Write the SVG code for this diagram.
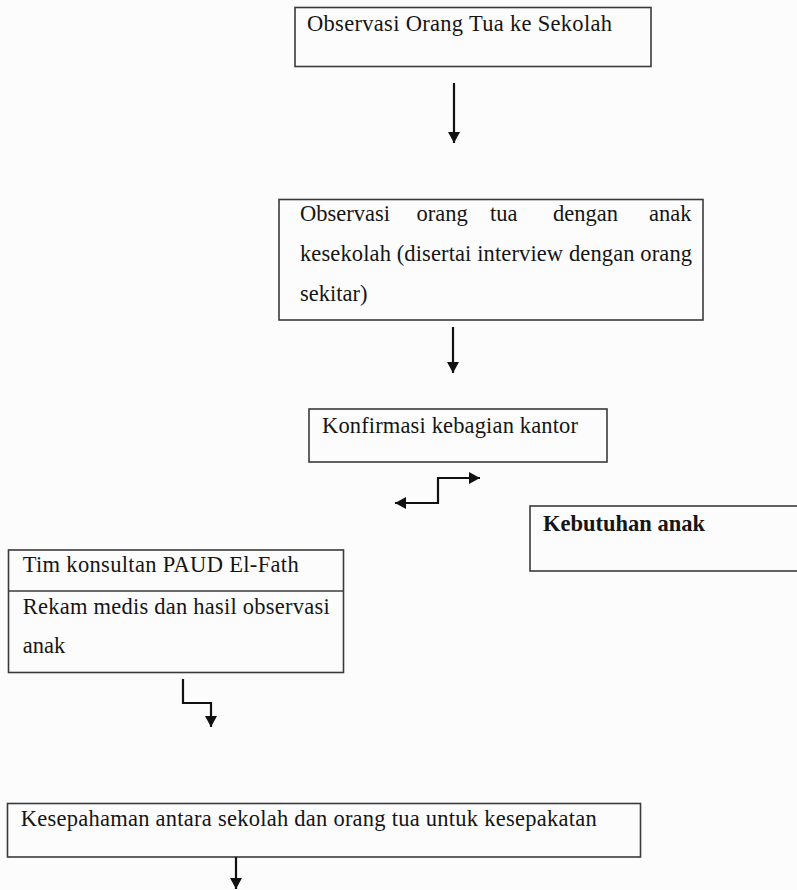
<svg xmlns="http://www.w3.org/2000/svg" width="797" height="890" viewBox="0 0 797 890">
<style>
.box{fill:none;stroke:#3a3a3a;stroke-width:1.6}
.t{font-family:"Liberation Serif","Times New Roman",serif;font-size:22.5px;fill:#151515}
.b{font-weight:bold}
.c{fill:none;stroke:#111;stroke-width:2.2}
</style>
<defs>
<marker id="ah" viewBox="0 0 11 12" refX="11" refY="6" markerWidth="11" markerHeight="12" orient="auto-start-reverse" markerUnits="userSpaceOnUse">
<path d="M0,0 L11,6 L0,12 z" fill="#111"/>
</marker>
</defs>
<rect width="797" height="890" fill="#fcfcfc"/>
<g id="n1">
<rect class="box" x="295" y="7.5" width="356" height="59"/>
<text class="t" x="307" y="31" textLength="305" lengthAdjust="spacing">Observasi Orang Tua ke Sekolah</text>
</g>
<g id="n2">
<rect class="box" x="279" y="199.5" width="424" height="120.5"/>
<text class="t" y="221"><tspan x="300">Observasi</tspan><tspan x="416.5">orang</tspan><tspan x="490">tua</tspan><tspan x="553">dengan</tspan><tspan x="649">anak</tspan></text>
<text class="t" x="300" y="261" textLength="392" lengthAdjust="spacing">kesekolah (disertai interview dengan orang</text>
<text class="t" x="300" y="301">sekitar)</text>
</g>
<g id="n3">
<rect class="box" x="309" y="409" width="298" height="53"/>
<text class="t" x="322" y="433" textLength="256" lengthAdjust="spacing">Konfirmasi kebagian kantor</text>
</g>
<g id="n4">
<rect class="box" x="530" y="506" width="275" height="65"/>
<text class="t b" x="543" y="531" textLength="162" lengthAdjust="spacing">Kebutuhan anak</text>
</g>
<g id="n5">
<rect class="box" x="8.5" y="550" width="335" height="122.5"/>
<line class="box" x1="8.5" y1="591" x2="343.5" y2="591"/>
<text class="t" x="22.7" y="572" textLength="276" lengthAdjust="spacing">Tim konsultan PAUD El-Fath</text>
<text class="t" x="22.7" y="614" textLength="307" lengthAdjust="spacing">Rekam medis dan hasil observasi</text>
<text class="t" x="22.7" y="653">anak</text>
</g>
<g id="n6">
<rect class="box" x="7.5" y="803.5" width="633" height="53.5"/>
<text class="t" x="20.7" y="826" textLength="576" lengthAdjust="spacing">Kesepahaman antara sekolah dan orang tua untuk kesepakatan</text>
</g>
<g id="connectors">
<path class="c" d="M454,83 V143" marker-end="url(#ah)"/>
<path class="c" d="M453,327 V373" marker-end="url(#ah)"/>
<path class="c" d="M395,503 H438 V478 H480" marker-start="url(#ah)" marker-end="url(#ah)"/>
<path class="c" d="M183,679 V703 H211 V727" marker-end="url(#ah)"/>
<path class="c" d="M236,857 V889" marker-end="url(#ah)"/>
</g>
</svg>
